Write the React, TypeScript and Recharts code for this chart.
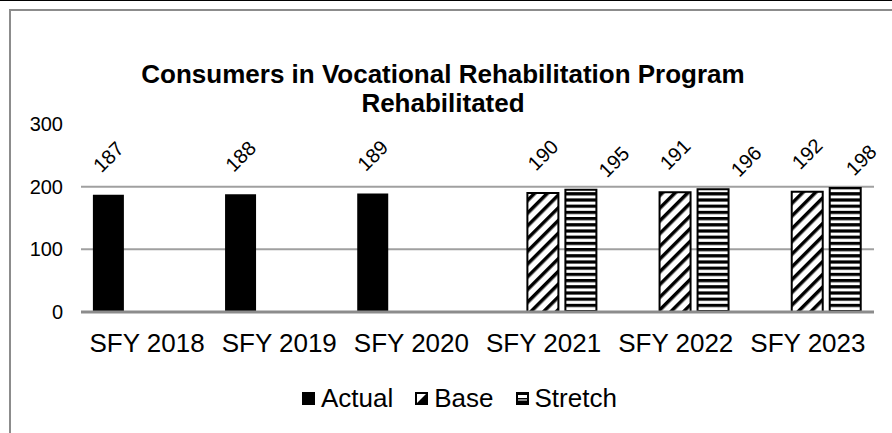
import React from 'react';
import { BarChart, Bar, XAxis, YAxis, CartesianGrid, LabelList } from 'recharts';

const categories = ['SFY 2018', 'SFY 2019', 'SFY 2020', 'SFY 2021', 'SFY 2022', 'SFY 2023'];
const actual: (number | null)[] = [187, 188, 189, null, null, null];
const base: (number | null)[] = [null, null, null, 190, 191, 192];
const stretch: (number | null)[] = [null, null, null, 195, 196, 198];
const yTicks = [0, 100, 200, 300];
const gridValues = [100, 200];
const titleLines = ['Consumers in Vocational Rehabilitation Program', 'Rehabilitated'];
const legendNames = ['Actual', 'Base', 'Stretch'];

const data = categories.map((c, i) => ({ name: c, actual: actual[i], base: base[i], stretch: stretch[i] }));

const FONT = "'Liberation Sans', Arial, sans-serif";

const scaleY = (p: any, v: number): number => {
  const s = p?.yAxis?.scale;
  if (typeof s === 'function') return s(v);
  if (s && typeof s.map === 'function') {
    const r = s.map(v);
    if (typeof r === 'number') return r;
  }
  const top = p?.offset?.top ?? 124;
  const h = p?.offset?.height ?? 188;
  const max = yTicks[yTicks.length - 1];
  return top + h * (1 - v / max);
};

const makeLabel = (kind: string) => (props: any) => {
  const vb = props.viewBox || {};
  const value = props.value;
  if (value == null) return null;
  const x = Number(props.x ?? vb.x);
  const y = Number(props.y ?? vb.y);
  const w = Number(props.width ?? vb.width);
  if (!isFinite(x) || !isFinite(y)) return null;
  const cx = x + w / 2;
  let dx = 0;
  let dy = -38;
  if (kind === 'stretch') {
    const isLast = stretch.indexOf(Number(value)) === stretch.length - 1;
    dx = isLast ? 16 : 33;
    dy = -28;
  }
  const lx = cx + dx;
  const ly = y + dy;
  return (
    <text
      x={lx}
      y={ly}
      transform={`rotate(-45 ${lx} ${ly})`}
      textAnchor="middle"
      dominantBaseline="central"
      fontSize={20}
      fontFamily={FONT}
      fill="#000"
    >
      {value}
    </text>
  );
};

const XTick = (props: any) => {
  const { x, y, payload } = props;
  return (
    <text x={x} y={y} dy="0.71em" textAnchor="middle" fontSize={26} fontFamily={FONT} fill="#000">
      {payload.value}
    </text>
  );
};

const LegendIcon = ({ kind }: { kind: string }) => {
  if (kind === 'Actual') {
    return (
      <svg width={13} height={13} style={{ display: 'block' }}>
        <rect x={0} y={0} width={13} height={13} fill="#000" />
      </svg>
    );
  }
  if (kind === 'Base') {
    return (
      <svg width={13} height={13} style={{ display: 'block' }}>
        <rect x={1} y={1} width={11} height={11} fill="#fff" stroke="#000" strokeWidth={2} />
        <polygon points="1,12 12,1 12,12" fill="#000" />
      </svg>
    );
  }
  return (
    <svg width={13} height={13} style={{ display: 'block' }}>
      <rect x={0} y={0} width={13} height={13} fill="#000" />
      <rect x={2} y={3} width={9} height={3} fill="#fff" />
      <rect x={2} y={7} width={9} height={2} fill="#888" />
    </svg>
  );
};

export default function App() {
  return (
    <div style={{ position: 'absolute', left: 0, top: 0, width: 892, height: 433, overflow: 'hidden', background: '#fff', fontFamily: FONT }}>
      <svg width={0} height={0} style={{ position: 'absolute' }}>
        <defs>
          <pattern id="diagPat" patternUnits="userSpaceOnUse" width={9} height={9} patternTransform="rotate(45)">
            <rect x={0} y={0} width={9} height={9} fill="#fff" />
            <rect x={0} y={0} width={3.5} height={9} fill="#000" />
          </pattern>
          <pattern id="horizPat" patternUnits="userSpaceOnUse" width={6} height={6.2}>
            <rect x={0} y={0} width={6} height={6.2} fill="#fff" />
            <rect x={0} y={0} width={6} height={3.2} fill="#000" />
          </pattern>
        </defs>
      </svg>
      <div style={{ position: 'absolute', left: 0, top: 0, width: 892, height: 1, background: '#000' }} />
      <div style={{ position: 'absolute', left: 9, top: 9, width: 1000, height: 1000, borderLeft: '2px solid #8c8c8c', borderTop: '2px solid #8c8c8c' }} />
      <div style={{ position: 'absolute', left: 9, top: 60, width: 868, textAlign: 'center', fontWeight: 'bold', fontSize: 26, lineHeight: '29px', color: '#000' }}>
        {titleLines.map((t) => (
          <div key={t}>{t}</div>
        ))}
      </div>
      <div style={{ position: 'absolute', left: 0, top: 0 }}>
        <BarChart
          width={892}
          height={433}
          data={data}
          margin={{ top: 124, right: 18, bottom: 0, left: 0 }}
          barCategoryGap="9%"
          barGap={7}
        >
          <CartesianGrid
            vertical={false}
            stroke="#a0a0a0"
            strokeWidth={2}
            horizontalCoordinatesGenerator={(p: any) => gridValues.map((v) => scaleY(p, v))}
          />
          <YAxis
            domain={[0, 300]}
            ticks={yTicks}
            width={81}
            axisLine={false}
            tickLine={false}
            tickSize={0}
            tickMargin={18}
            tick={{ fontSize: 20, fill: '#000', fontFamily: FONT }}
            interval={0}
          />
          <XAxis
            dataKey="name"
            height={121}
            axisLine={{ stroke: '#8c8c8c', strokeWidth: 3 }}
            tickLine={false}
            tickSize={0}
            tickMargin={22}
            tick={<XTick />}
            interval={0}
          />
          <Bar dataKey="actual" fill="#000" isAnimationActive={false}>
            <LabelList dataKey="actual" content={makeLabel('actual')} />
          </Bar>
          <Bar dataKey="base" fill="url(#diagPat)" stroke="#000" strokeWidth={2} isAnimationActive={false}>
            <LabelList dataKey="base" content={makeLabel('base')} />
          </Bar>
          <Bar dataKey="stretch" fill="url(#horizPat)" stroke="#000" strokeWidth={2} isAnimationActive={false}>
            <LabelList dataKey="stretch" content={makeLabel('stretch')} />
          </Bar>
        </BarChart>
      </div>
      <div style={{ position: 'absolute', left: 302, top: 383, height: 30, display: 'flex', alignItems: 'center', fontSize: 26, color: '#000' }}>
        {legendNames.map((n, i) => (
          <div key={n} style={{ display: 'flex', alignItems: 'center', marginLeft: i === 0 ? 0 : 22 }}>
            <LegendIcon kind={n} />
            <span style={{ marginLeft: 6 }}>{n}</span>
          </div>
        ))}
      </div>
    </div>
  );
}
